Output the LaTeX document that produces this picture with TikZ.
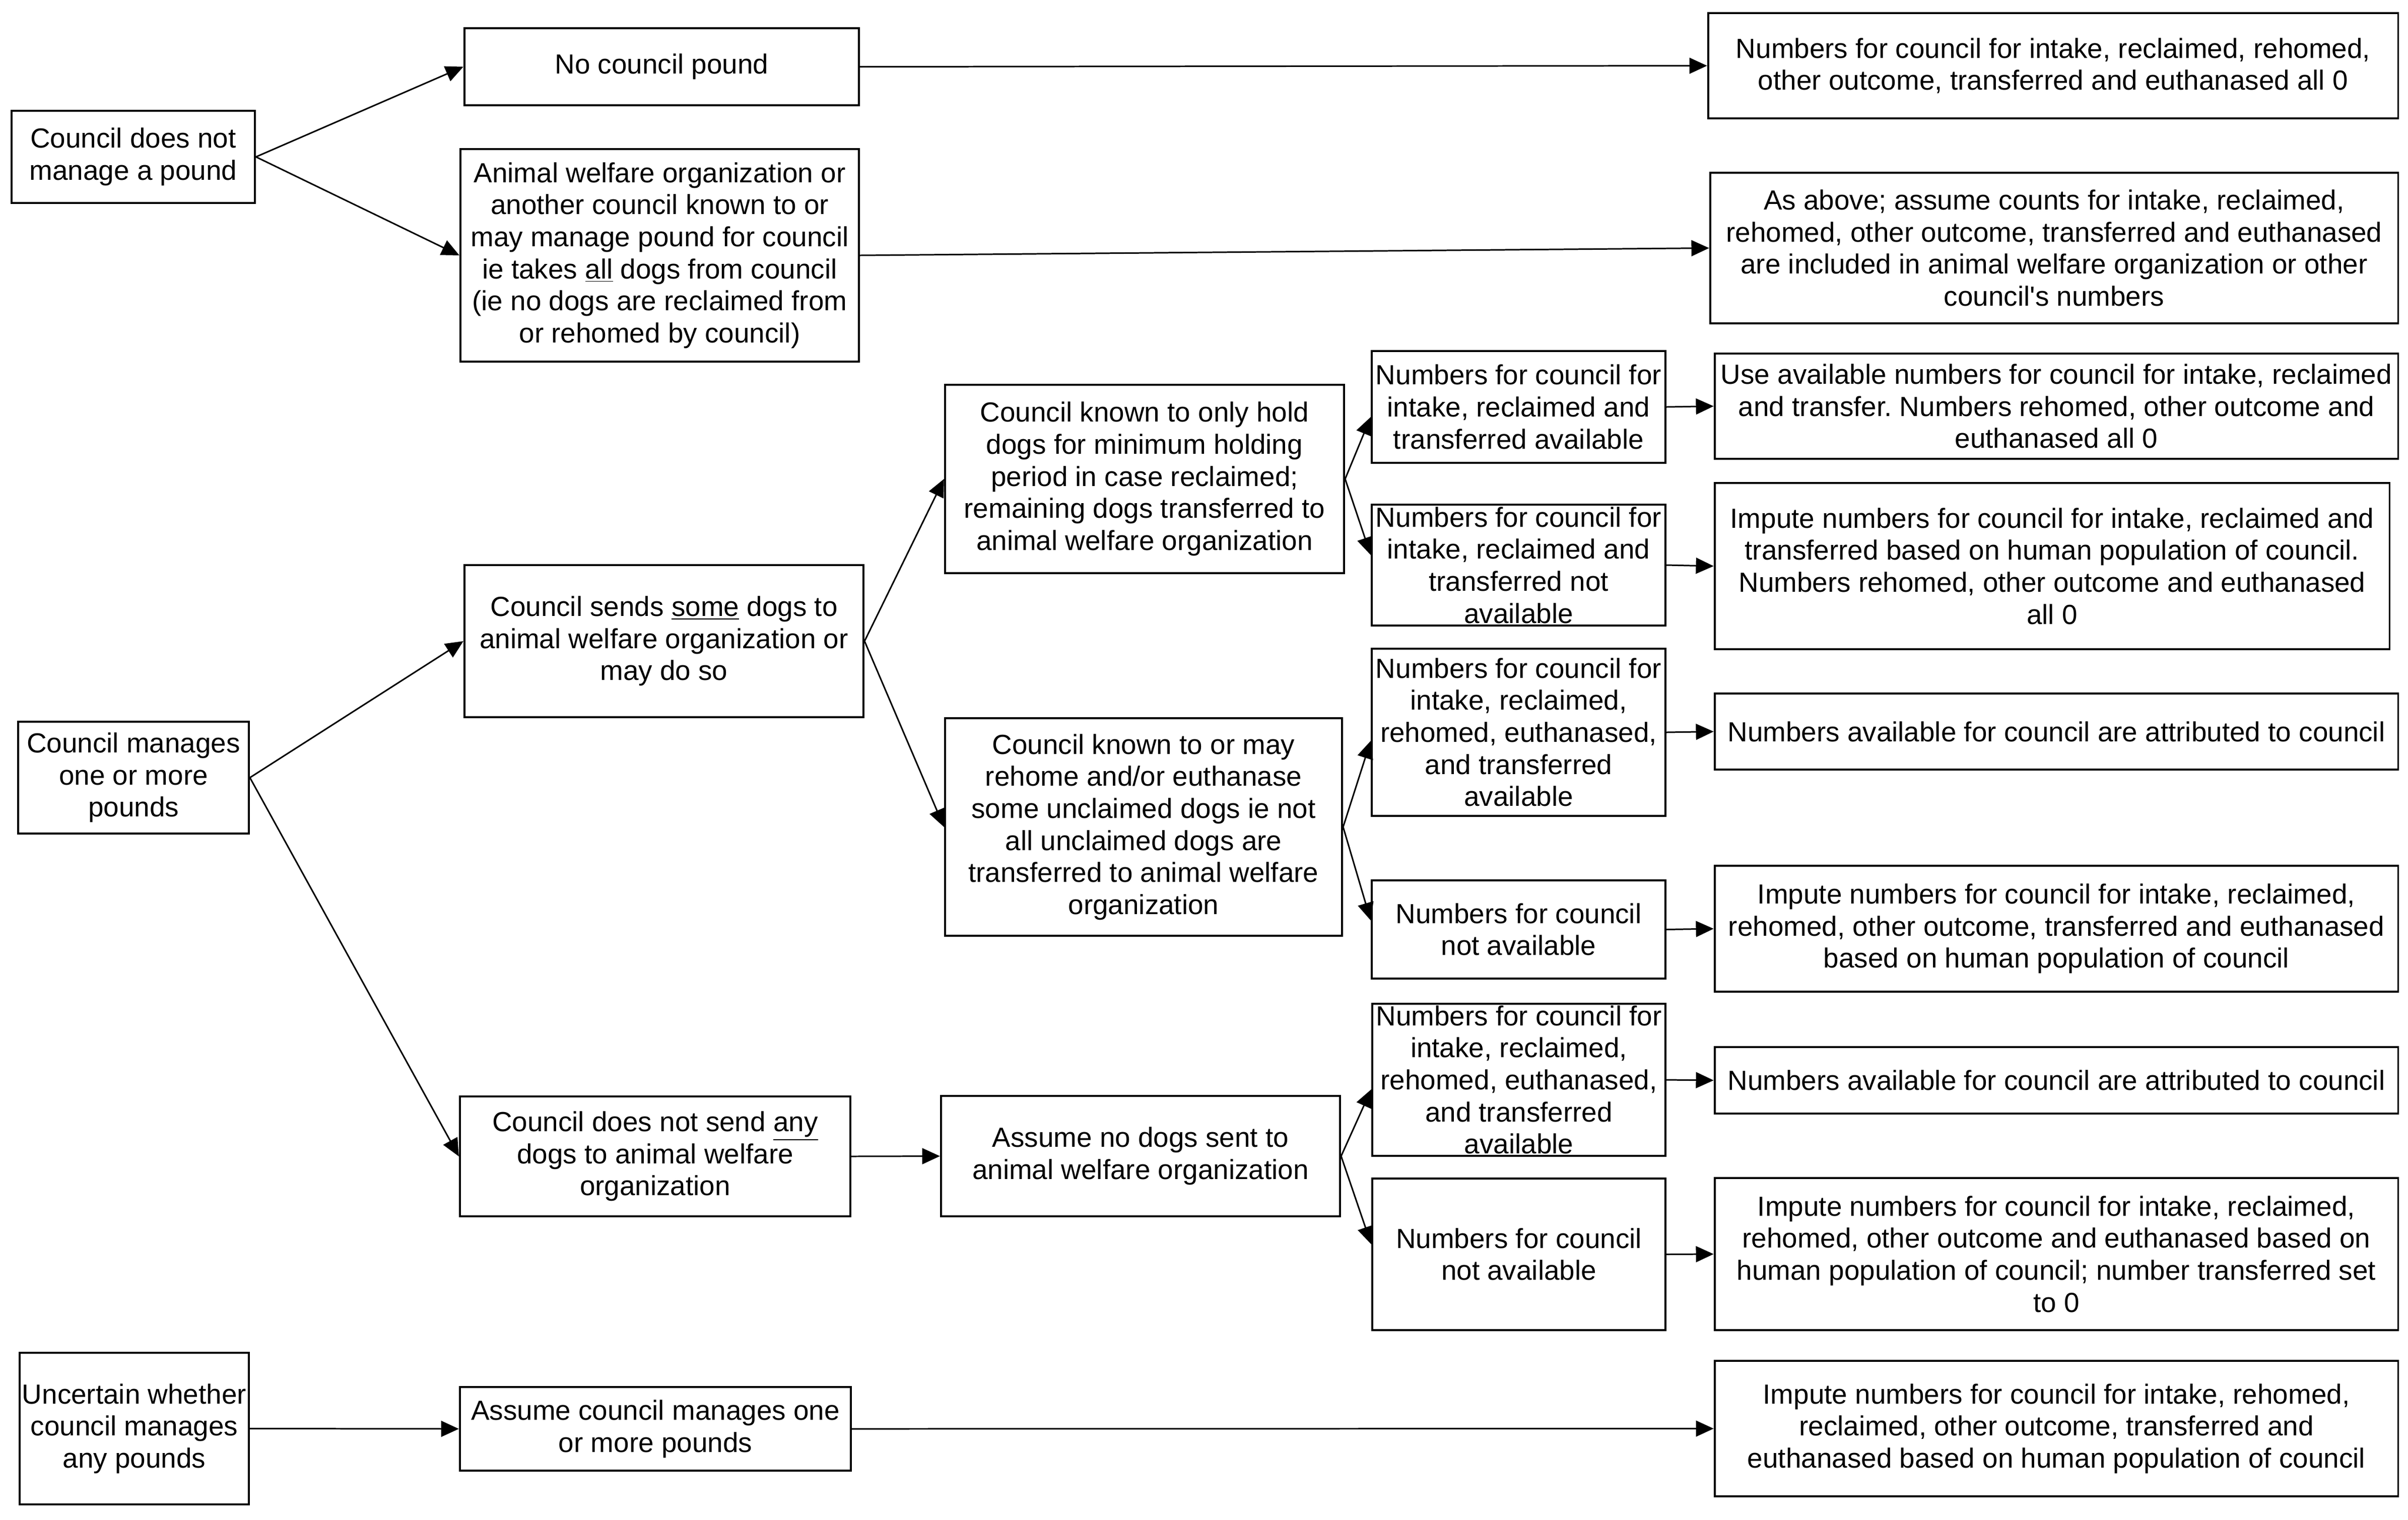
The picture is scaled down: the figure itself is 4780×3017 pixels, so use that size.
\documentclass[tikz,border=0pt]{standalone}
\usepackage{fontspec}
\setmainfont{Liberation Sans}[Ligatures=TeXOff]
\usetikzlibrary{arrows.meta}
\frenchspacing
\tikzset{
  box/.style={draw, line width=1.1pt, inner sep=0pt, align=center,
    font=\fontsize{15.6pt}{18.1pt}\selectfont},
  arr/.style={-{Triangle[length=10pt,width=9pt]}, line width=0.85pt}
}
\begin{document}
\begin{tikzpicture}[x=0.01cm,y=-0.01cm]
\useasboundingbox (0,0) rectangle (4780,3017);
\fill[white] (0,0) rectangle (4780,3017);

% column 1
\node[box, minimum width=4.83cm, minimum height=1.83cm] (dnm) at (264.5,311.5) {Council does not\\manage a pound};
\node[box, minimum width=4.58cm, minimum height=2.22cm] (man) at (265,1544) {Council manages\\one or more\\pounds};
\node[box, minimum width=4.55cm, minimum height=3.01cm] (unc) at (266.5,2836.5) {Uncertain whether\\council manages\\any pounds};

% column 2
\node[box, minimum width=7.83cm, minimum height=1.53cm] (ncp) at (1313.5,132.5) {No council pound};
\node[box, minimum width=7.91cm, minimum height=4.22cm] (awo) at (1309.5,507) {Animal welfare organization or\\another council known to or\\may manage pound for council\\ie takes \underline{all} dogs from council\\(ie no dogs are reclaimed from\\or rehomed by council)};
\node[box, minimum width=7.92cm, minimum height=3.02cm] (sendsome) at (1318,1273) {Council sends \underline{some} dogs to\\animal welfare organization or\\may do so};
\node[box, minimum width=7.75cm, minimum height=2.38cm] (nosend) at (1300.5,2296) {Council does not send \underline{any}\\dogs to animal welfare\\organization};
\node[box, minimum width=7.76cm, minimum height=1.66cm] (assume) at (1301,2837) {Assume council manages one\\or more pounds};

% column 3
\node[box, minimum width=7.92cm, minimum height=3.74cm] (hold) at (2272,951) {Council known to only hold\\dogs for minimum holding\\period in case reclaimed;\\remaining dogs transferred to\\animal welfare organization};
\node[box, minimum width=7.88cm, minimum height=4.32cm] (rehome) at (2270,1642) {Council known to or may\\rehome and/or euthanase\\some unclaimed dogs ie not\\all unclaimed dogs are\\transferred to animal welfare\\organization};
\node[box, minimum width=7.92cm, minimum height=2.39cm] (nodogs) at (2264,2295.5) {Assume no dogs sent to\\animal welfare organization};

% column 4
\node[box, minimum width=5.83cm, minimum height=2.22cm] (n1) at (3014.5,808) {Numbers for council for\\intake, reclaimed and\\transferred available};
\node[box, minimum width=5.83cm, minimum height=2.40cm] (n2) at (3014.5,1122) {Numbers for council for\\intake, reclaimed and\\transferred not\\available};
\node[box, minimum width=5.83cm, minimum height=3.32cm] (n3) at (3014.5,1454) {Numbers for council for\\intake, reclaimed,\\rehomed, euthanased,\\and transferred\\available};
\node[box, minimum width=5.83cm, minimum height=1.95cm] (n4) at (3014.5,1845.5) {Numbers for council\\not available};
\node[box, minimum width=5.82cm, minimum height=3.02cm] (n5) at (3015,2144) {Numbers for council for\\intake, reclaimed,\\rehomed, euthanased,\\and transferred\\available};
\node[box, minimum width=5.82cm, minimum height=3.01cm] (n6) at (3015,2490.5) {Numbers for council\\not available};

% column 5
\node[box, minimum width=13.69cm, minimum height=2.09cm] (r1) at (4075.5,130.5) {Numbers for council for intake, reclaimed, rehomed,\\other outcome, transferred and euthanased all 0};
\node[box, minimum width=13.65cm, minimum height=2.99cm] (r2) at (4077.5,492.5) {As above; assume counts for intake, reclaimed,\\rehomed, other outcome, transferred and euthanased\\are included in animal welfare organization or other\\council's numbers};
\node[box, minimum width=13.56cm, minimum height=2.09cm] (r3) at (4082,806.5) {Use available numbers for council for intake, reclaimed\\and transfer. Numbers rehomed, other outcome and\\euthanased all 0};
\node[box, minimum width=13.39cm, minimum height=3.30cm] (r4) at (4073.5,1124) {Impute numbers for council for intake, reclaimed and\\transferred based on human population of council.\\Numbers rehomed, other outcome and euthanased\\all 0};
\node[box, minimum width=13.56cm, minimum height=1.51cm] (r5) at (4082,1452.5) {Numbers available for council are attributed to council};
\node[box, minimum width=13.56cm, minimum height=2.50cm] (r6) at (4082,1844) {Impute numbers for council for intake, reclaimed,\\rehomed, other outcome, transferred and euthanased\\based on human population of council};
\node[box, minimum width=13.56cm, minimum height=1.32cm] (r7) at (4082,2145) {Numbers available for council are attributed to council};
\node[box, minimum width=13.56cm, minimum height=3.02cm] (r8) at (4082,2490) {Impute numbers for council for intake, reclaimed,\\rehomed, other outcome and euthanased based on\\human population of council; number transferred set\\to 0};
\node[box, minimum width=13.56cm, minimum height=2.69cm] (r9) at (4082,2836.5) {Impute numbers for council for intake, rehomed,\\reclaimed, other outcome, transferred and\\euthanased based on human population of council};

% connectors
\draw[arr] (dnm.east) -- (ncp.west);
\draw[arr] (dnm.east) -- (awo.west);
\draw[arr] (man.east) -- (sendsome.west);
\draw[arr] (man.east) -- (nosend.west);
\draw[arr] (unc.east) -- (assume.west);

\draw[arr] (ncp.east) -- (r1.west);
\draw[arr] (awo.east) -- (r2.west);
\draw[arr] (sendsome.east) -- (hold.west);
\draw[arr] (sendsome.east) -- (rehome.west);
\draw[arr] (nosend.east) -- (nodogs.west);
\draw[arr] (assume.east) -- (r9.west);

\draw[arr] (hold.east) -- ([yshift=-0.2cm]n1.west);
\draw[arr] (hold.east) -- ([yshift=0.2cm]n2.west);
\draw[arr] (rehome.east) -- ([yshift=-0.17cm]n3.west);
\draw[arr] (rehome.east) -- ([yshift=0.18cm]n4.west);
\draw[arr] (nodogs.east) -- ([yshift=-0.19cm]n5.west);
\draw[arr] (nodogs.east) -- ([yshift=0.2cm]n6.west);

\draw[arr] (n1.east) -- (r3.west);
\draw[arr] (n2.east) -- (r4.west);
\draw[arr] (n3.east) -- (r5.west);
\draw[arr] (n4.east) -- (r6.west);
\draw[arr] (n5.east) -- (r7.west);
\draw[arr] (n6.east) -- (r8.west);
\end{tikzpicture}
\end{document}
